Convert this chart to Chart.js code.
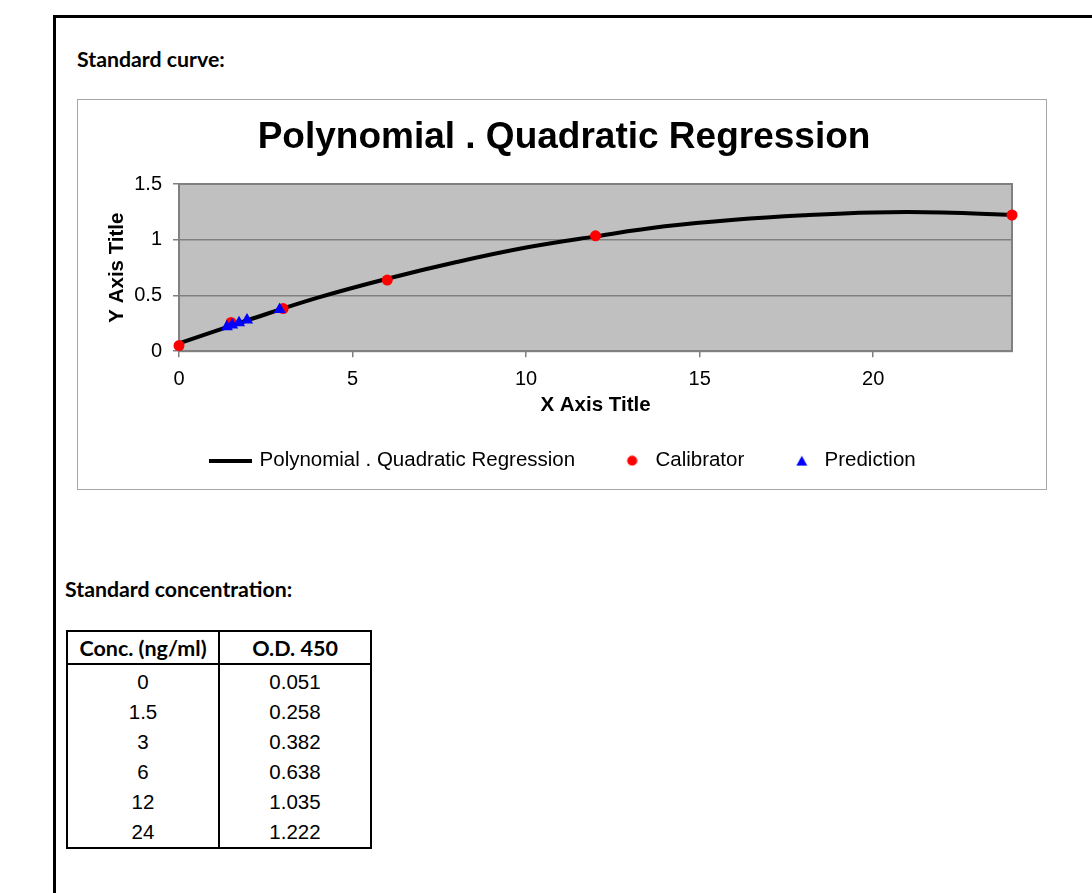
<!DOCTYPE html>
<html>
<head>
<meta charset="utf-8">
<title>Standard curve</title>
<script src="https://cdn.jsdelivr.net/npm/chart.js@4.4.0/dist/chart.umd.min.js"></script>
<style>
  html, body { margin: 0; padding: 0; background: #fff; }
  body { width: 1092px; height: 893px; position: relative; overflow: hidden; font-family: Lato, "Open Sans", sans-serif; color: #000; }
  .frame-top { position: absolute; left: 53px; top: 15px; width: 1039px; height: 3px; background: #000; }
  .frame-left { position: absolute; left: 53px; top: 15px; width: 3px; height: 878px; background: #000; }
  .heading { position: absolute; font-weight: 700; font-size: 21.3px; line-height: 24px; white-space: nowrap; }
  #chartBox { position: absolute; left: 77px; top: 99px; width: 970px; height: 391px; border: 1px solid #a6a6a6; box-sizing: border-box; }
  #curve { position: absolute; left: 77px; top: 100px; }
  table { position: absolute; left: 66px; top: 630px; width: 304px; table-layout: fixed; border-collapse: collapse; border: 2px solid #000; }
  th { font-family: Lato, "Open Sans", sans-serif; font-weight: 700; font-size: 21.5px; height: 31px; padding: 0; border: 2px solid #000; }
  td { font-family: Arial, "Liberation Sans", sans-serif; font-size: 20.5px; height: 30px; padding: 0; text-align: center; border-left: 2px solid #000; border-right: 2px solid #000; }
  tbody tr:first-child td { padding-top: 2px; }
</style>
</head>
<body>
<div class="frame-top"></div>
<div class="frame-left"></div>
<div class="heading" style="left:77px; top:47px;">Standard curve:</div>
<div id="chartBox"></div>
<canvas id="curve" width="969" height="381"></canvas>
<div class="heading" style="left:65px; top:577px;">Standard concentration:</div>
<table id="stdTable">
  <colgroup><col style="width:152px"><col style="width:152px"></colgroup>
  <thead><tr><th>Conc. (ng/ml)</th><th>O.D. 450</th></tr></thead>
  <tbody></tbody>
</table>
<script>
// calibrators (from the table)
const concX = [0, 1.5, 3, 6, 12, 24];
const concOD = [0.051, 0.258, 0.382, 0.638, 1.035, 1.222];

// fitted curve
const fitX = [0, 2, 4, 6, 8, 10, 12, 14, 16, 18, 20, 22, 24];
const fitY = [0.07, 0.28, 0.48, 0.65, 0.80, 0.93, 1.03, 1.12, 1.18, 1.22, 1.245, 1.245, 1.222];

// predicted samples (blue triangles)
const predX = [1.38, 1.53, 1.73, 1.96, 2.9];
const predY = [0.219, 0.235, 0.256, 0.279, 0.373];

const seriesNames = ['Polynomial . Quadratic Regression', 'Calibrator', 'Prediction'];

// table
const tbody = document.querySelector('#stdTable tbody');
concX.forEach((c, i) => {
  const tr = document.createElement('tr');
  tr.innerHTML = '<td>' + c + '</td><td>' + concOD[i].toFixed(3) + '</td>';
  tbody.appendChild(tr);
});

const toPoints = (xs, ys) => xs.map((x, i) => ({ x: x, y: ys[i] }));

// legend keys (drawn a bit right of the box centre, like the original)
function makeKey(w, h, draw) {
  const c = document.createElement('canvas');
  c.width = w; c.height = h;
  draw(c.getContext('2d'));
  return c;
}
const lineKey = makeKey(43, 4, g => { g.fillStyle = '#000'; g.fillRect(0, 0, 43, 4); });
const dotKey = makeKey(22, 11, g => { g.fillStyle = '#ff0000'; g.beginPath(); g.arc(16.5, 5.5, 5, 0, Math.PI * 2); g.fill(); });
const triKey = makeKey(24, 11, g => { g.fillStyle = '#0000ff'; g.beginPath(); g.moveTo(18, 0.5); g.lineTo(23.5, 10.5); g.lineTo(12.5, 10.5); g.closePath(); g.fill(); });
const keys = [lineKey, dotKey, triKey];

const plotFrame = {
  id: 'plotFrame',
  beforeDraw(chart) {
    const { ctx, chartArea: a } = chart;
    ctx.save();
    ctx.fillStyle = '#c0c0c0';
    ctx.fillRect(a.left, a.top, a.right - a.left, a.bottom - a.top);
    ctx.restore();
  },
  beforeDatasetsDraw(chart) {
    const { ctx, chartArea: a } = chart;
    ctx.save();
    ctx.strokeStyle = '#808080';
    ctx.lineWidth = 2;
    ctx.strokeRect(a.left, a.top, a.right - a.left, a.bottom - a.top);
    ctx.restore();
  }
};

Chart.defaults.font.family = 'Arial, "Liberation Sans", sans-serif';
Chart.defaults.color = '#000';

const ctx = document.getElementById('curve').getContext('2d');
new Chart(ctx, {
  type: 'scatter',
  data: {
    datasets: [{
      label: seriesNames[0],
      data: toPoints(fitX, fitY),
      showLine: true,
      borderColor: '#000',
      borderWidth: 4,
      pointRadius: 0,
      tension: 0.4,
      fill: false,
      order: 3
    }, {
      label: seriesNames[1],
      data: toPoints(concX, concOD),
      backgroundColor: '#ff0000',
      borderWidth: 0,
      pointRadius: 5.5,
      clip: false,
      order: 2
    }, {
      label: seriesNames[2],
      data: toPoints(predX, predY),
      pointStyle: 'triangle',
      backgroundColor: '#0000ff',
      borderWidth: 0,
      pointRadius: 7,
      clip: false,
      order: 1
    }]
  },
  options: {
    responsive: false,
    animation: false,
    events: [],
    layout: { padding: { left: 39, right: 34, top: 0, bottom: 0 } },
    plugins: {
      title: {
        display: true,
        text: 'Polynomial . Quadratic Regression',
        font: { size: 37, weight: 'bold' },
        color: '#000',
        padding: { top: 16, bottom: 23.6 }
      },
      legend: {
        position: 'bottom',
        labels: {
          usePointStyle: true,
          pointStyleWidth: 37,
          padding: 33,
          font: { size: 20.5 },
          color: '#000',
          generateLabels: chart => chart.data.datasets.map((ds, i) => ({
            text: ds.label,
            pointStyle: keys[i],
            fillStyle: 'rgba(0,0,0,0)',
            strokeStyle: 'rgba(0,0,0,0)',
            lineWidth: 0,
            hidden: false,
            datasetIndex: i,
            fontColor: '#000'
          }))
        }
      },
      tooltip: { enabled: false }
    },
    scales: {
      x: {
        type: 'linear',
        position: 'bottom',
        min: 0,
        max: 24,
        afterFit: s => { s.height = 66.3; },
        ticks: { stepSize: 5, includeBounds: false, padding: 10, font: { size: 20 } },
        grid: { drawOnChartArea: false, tickLength: 6, color: '#808080', lineWidth: 1.5 },
        border: { color: '#808080', width: 2 },
        title: { display: true, text: 'X Axis Title', font: { size: 20.5, weight: 'bold' }, padding: { top: 0, bottom: 0 } }
      },
      y: {
        min: 0,
        max: 1.5,
        afterFit: s => { s.width = 63; },
        ticks: { stepSize: 0.5, padding: 11, font: { size: 20 }, callback: v => String(v) },
        grid: { tickLength: 6, color: '#808080', lineWidth: 1.5 },
        border: { color: '#808080', width: 2 },
        title: { display: true, text: 'Y Axis Title', font: { size: 20.5, weight: 'bold' }, padding: { top: -11.3, bottom: 0 } }
      }
    }
  },
  plugins: [plotFrame]
});
</script>
</body>
</html>
